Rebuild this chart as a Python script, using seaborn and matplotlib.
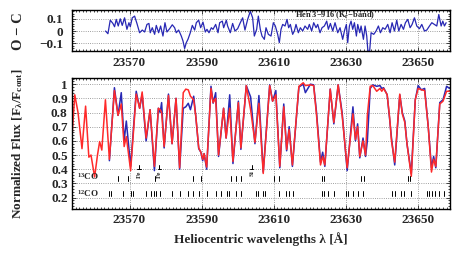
import numpy as np
import pandas as pd
import matplotlib
matplotlib.use('Agg')
import matplotlib.pyplot as plt
from matplotlib.ticker import FixedLocator, MultipleLocator, FuncFormatter
import seaborn as sns

# ---------------------------------------------------------------
# Spectrum (wavelength in Angstrom)
wave = [23554.0, 23554.8, 23555.7, 23556.8, 23557.8, 23558.7, 23559.3, 23560.3,
        23561.1, 23561.7, 23562.3, 23563.3, 23564.4, 23565.8, 23566.8, 23567.7,
        23568.5, 23569.1, 23570.3, 23571.85, 23572.8, 23573.5, 23574.6, 23575.7,
        23576.9, 23578.0, 23578.5, 23578.9, 23579.6, 23580.8, 23581.8, 23582.9,
        23583.9, 23584.9, 23585.6, 23586.3, 23586.9, 23587.8, 23588.4, 23589.2,
        23589.8, 23590.3, 23590.7, 23591.4, 23592.6, 23593.2, 23593.9, 23594.7,
        23596.1, 23596.8, 23597.8, 23598.7, 23600.2, 23600.9, 23602.4, 23603.6,
        23604.8, 23605.9, 23607.1, 23608.9, 23609.7, 23610.6, 23611.7, 23612.8,
        23613.6, 23614.3, 23615.2, 23617.0, 23618.2, 23618.8, 23620.2, 23621.1,
        23621.9, 23623.0, 23623.6, 23624.2, 23625.7, 23626.7, 23627.9, 23629.0,
        23630.4, 23632.0, 23632.7, 23633.3, 23633.9, 23634.8, 23635.5, 23636.0,
        23636.8, 23637.5, 23638.6, 23639.5, 23640.0, 23640.5, 23641.5, 23642.2,
        23642.7, 23643.6, 23645.0, 23645.7, 23646.4, 23647.0, 23648.2, 23649.3,
        23650.1, 23651.0, 23651.9, 23652.9, 23653.8, 23654.4, 23655.0, 23656.1,
        23657.0, 23658.0, 23658.8]

obs_flux = [None, None, None, None, None, None, None, None,
            None, None, None, None, 0.46, 0.975, 0.78, 0.94,
            0.60, 0.74, 0.42, 0.95, 0.83, 0.93, 0.60, 0.82,
            0.39, 0.83, 0.80, 0.87, 0.55, 0.93, 0.58, 0.90,
            0.40, 0.83, 0.84, 0.865, 0.82, 0.915, 0.77, 0.545,
            0.52, 0.46, 0.51, 0.40, 0.985, 0.866, 0.94, 0.49,
            0.83, 0.62, 0.925, 0.44, 0.88, 0.54, 0.99, 0.91,
            0.58, 0.92, 0.38, 0.995, 0.88, 0.955, 0.41, 0.86,
            0.53, 0.70, 0.42, 0.98, 1.00, 0.94, 1.00, 0.995,
            0.80, 0.45, 0.52, 0.42, 0.965, 0.72, 0.995, 0.80,
            0.39, 0.84, 0.60, 0.72, 0.48, 0.62, 0.49, 0.60,
            0.97, 0.995, 0.985, 0.99, 0.97, 0.975, 0.926, 0.75,
            0.62, 0.43, 0.925, 0.80, 0.74, 0.58, 0.37, 0.89,
            0.99, 0.96, 0.97, 0.70, 0.41, 0.49, 0.41, 0.87,
            0.89, 0.985, 0.97]

model_flux = [0.62, 0.925, 0.80, 0.545, 0.845, 0.485, 0.50, 0.345,
              0.50, 0.595, 0.535, 0.89, 0.47, 0.955, 0.78, 0.86,
              0.56, 0.63, 0.39, 0.93, 0.83, 0.945, 0.62, 0.82,
              0.42, 0.83, 0.82, 0.80, 0.56, 0.92, 0.58, 0.90,
              0.41, 0.94, 0.965, 0.96, 0.915, 0.89, 0.77, 0.55,
              0.52, 0.47, 0.51, 0.415, 0.97, 0.87, 0.90, 0.50,
              0.83, 0.62, 0.83, 0.455, 0.87, 0.55, 0.99, 0.82,
              0.59, 0.865, 0.37, 0.99, 0.88, 0.925, 0.42, 0.84,
              0.54, 0.68, 0.43, 0.985, 1.01, 0.99, 0.995, 0.99,
              0.78, 0.43, 0.49, 0.43, 0.965, 0.73, 0.995, 0.78,
              0.41, 0.79, 0.61, 0.70, 0.49, 0.60, 0.50, 0.78,
              0.985, 0.99, 0.95, 0.97, 0.95, 0.97, 0.926, 0.76,
              0.60, 0.45, 0.93, 0.79, 0.73, 0.58, 0.35, 0.89,
              0.97, 0.96, 0.955, 0.70, 0.38, 0.47, 0.42, 0.86,
              0.88, 0.95, 0.95]

# Residuals O - C
oc_wave = [23563.34, 23564.0, 23564.64, 23565.38, 23565.84, 23566.31, 23566.86, 23567.42,
           23567.97, 23568.62, 23569.27, 23569.83, 23570.2, 23570.75, 23571.4, 23572.05,
           23572.79, 23573.53, 23574.18, 23574.83, 23575.38, 23575.75, 23576.31, 23576.96,
           23577.42, 23578.07, 23578.62, 23579.27, 23579.83, 23580.38, 23581.12, 23581.86,
           23582.51, 23582.97, 23583.62, 23584.36, 23584.83, 23585.29, 23585.75, 23586.21,
           23586.86, 23587.42, 23588.07, 23588.53, 23589.18, 23589.73, 23590.38, 23591.03,
           23591.49, 23592.05, 23592.7, 23593.16, 23593.9, 23594.55, 23595.01, 23595.75,
           23596.12, 23596.86, 23597.22, 23597.96, 23598.61, 23599.26, 23600.0, 23600.74,
           23601.39, 23602.03, 23602.78, 23603.52, 23604.16, 23604.63, 23605.28, 23605.74,
           23606.29, 23606.76, 23607.41, 23607.87, 23608.52, 23609.26, 23609.91, 23610.46,
           23611.11, 23611.57, 23612.04, 23612.5, 23613.15, 23613.7, 23614.16, 23614.63,
           23615.27, 23615.74, 23616.2, 23616.85, 23617.41, 23618.05, 23618.7, 23619.44,
           23619.9, 23620.55, 23621.11, 23621.76, 23622.22, 23622.87, 23623.42, 23624.07,
           23624.72, 23625.18, 23625.74, 23626.39, 23627.03, 23627.78, 23628.42, 23629.16,
           23629.63, 23630.18, 23630.55, 23631.02, 23631.48, 23631.94, 23632.41, 23632.96,
           23633.33, 23633.89, 23634.26, 23634.91, 23635.37, 23635.83, 23636.11, 23636.57,
           23637.04, 23637.78, 23638.42, 23639.07, 23639.63, 23640.28, 23640.92, 23641.66,
           23642.31, 23642.87, 23643.52, 23644.16, 23644.72, 23645.37, 23646.02, 23646.57,
           23647.22, 23647.87, 23648.42, 23649.07, 23649.72, 23650.46, 23651.11, 23651.85,
           23652.5, 23653.24, 23653.89, 23654.63, 23655.27, 23655.83, 23656.48, 23656.94,
           23657.4, 23657.87]

oc_val = [0.0, -0.022, 0.089, 0.062, 0.035, 0.095, 0.041, 0.10,
          0.046, 0.108, 0.014, 0.068, 0.035, 0.108, 0.122, 0.062,
          -0.014, 0.008, -0.008, 0.054, 0.062, -0.014, 0.027, -0.027,
          0.046, -0.014, 0.041, -0.041, 0.068, -0.008, 0.019, 0.051,
          0.027, -0.014, 0.008, -0.041, -0.081, -0.143, -0.095, -0.068,
          -0.014, 0.046, 0.008, 0.068, 0.089, 0.027, 0.073, -0.008,
          0.014, -0.014, 0.027, 0.014, 0.054, -0.014, 0.068, 0.081,
          0.027, 0.089, 0.041, -0.014, 0.062, 0.0, 0.019, 0.068,
          0.108, 0.008, 0.095, 0.162, 0.108, -0.041, 0.014, 0.122,
          0.014, -0.041, -0.068, 0.027, -0.027, -0.041, 0.068, 0.041,
          -0.027, -0.095, 0.014, 0.054, 0.041, 0.095, 0.027, 0.054,
          -0.027, 0.0, 0.054, -0.014, 0.027, 0.0, 0.041, 0.014,
          0.054, 0.0, 0.068, 0.027, 0.054, -0.014, 0.027, 0.041,
          0.081, 0.014, 0.062, 0.0, 0.068, -0.014, 0.027, -0.068,
          0.0, 0.054, -0.095, 0.041, 0.081, 0.014, 0.068, -0.041,
          0.054, -0.014, 0.041, -0.068, 0.041, -0.041, -0.149, -0.19,
          -0.014, -0.027, 0.0, 0.041, -0.014, 0.027, 0.014, 0.054,
          -0.014, 0.068, 0.0, 0.089, 0.0, 0.054, 0.014, 0.068,
          0.095, 0.027, 0.054, 0.108, 0.041, 0.019, 0.054, 0.0,
          0.008, 0.041, 0.068, 0.054, 0.041, 0.135, 0.041, 0.081,
          0.041, 0.068]

# line identifications
co13_lines = [23566.8, 23569.7, 23577.1, 23587.6, 23589.9, 23598.2, 23599.5, 23600.9,
              23610.2, 23611.6, 23623.3, 23624.1, 23634.3, 23635.2, 23647.2, 23647.7]
co12_lines = [23564.3, 23564.8, 23568.2, 23570.3, 23571.0, 23574.6, 23576.0, 23576.7,
              23577.4, 23578.5, 23581.8, 23583.9, 23586.2, 23587.6, 23589.3, 23591.5,
              23594.1, 23595.5, 23597.1, 23597.7, 23599.5, 23600.9, 23605.1, 23605.7,
              23606.9, 23607.6, 23611.6, 23613.4, 23614.3, 23615.3, 23623.3, 23624.1,
              23625.0, 23626.7, 23630.1, 23630.7, 23631.9, 23633.3, 23634.7, 23642.8,
              23643.7, 23645.4, 23646.3, 23648.0, 23652.6, 23653.2, 23653.9, 23654.8,
              23656.0, 23657.2]
atomic_lines = [23572.7, 23578.3, 23603.9]
atomic_names = ['Fe', 'Fe', 'Si']

x_ticks = [23570, 23590, 23610, 23630, 23650]
flux_ticks = [0.2, 0.3, 0.4, 0.5, 0.6, 0.7, 0.8, 0.9, 1.0]
oc_ticks = [-0.1, 0.0, 0.1]
# ---------------------------------------------------------------

sns.set_theme(style='ticks')
plt.rcParams['font.family'] = ['Liberation Serif', 'DejaVu Serif']
plt.rcParams['font.weight'] = 'bold'
plt.rcParams['axes.labelweight'] = 'bold'
plt.rcParams['mathtext.fontset'] = 'custom'
plt.rcParams['mathtext.rm'] = 'Liberation Serif:bold'
plt.rcParams['mathtext.bf'] = 'Liberation Serif:bold'
plt.rcParams['mathtext.it'] = 'Liberation Serif:bold'
plt.rcParams['mathtext.default'] = 'rm'

blue = '#2828b4'
red = '#ff2a2a'

fig = plt.figure(figsize=(4.58, 2.56), dpi=100)
ax_top = fig.add_axes([0.157, 0.799, 0.826, 0.162])
ax_bot = fig.add_axes([0.157, 0.184, 0.826, 0.511])

spec = pd.DataFrame({'wave': wave, 'obs': obs_flux, 'model': model_flux})
spec['obs'] = pd.to_numeric(spec['obs'])
oc = pd.DataFrame({'wave': oc_wave, 'oc': oc_val})

line_kw = dict(sort=False, estimator=None, solid_joinstyle='round', solid_capstyle='round')
sns.lineplot(data=oc, x='wave', y='oc', ax=ax_top, color=blue, lw=0.9, **line_kw)
sns.lineplot(data=spec, x='wave', y='obs', ax=ax_bot, color=blue, lw=1.1, **line_kw)
sns.lineplot(data=spec, x='wave', y='model', ax=ax_bot, color=red, lw=1.1, **line_kw)

# line identification marks
for w in co13_lines:
    ax_bot.plot([w, w], [0.318, 0.35], color='black', lw=0.7)
for w in co12_lines:
    ax_bot.plot([w, w], [0.21, 0.245], color='black', lw=0.7)
ax_bot.text(23555.3, 0.348, r'$^{13}$CO', fontsize=6.5, va='center', ha='left')
ax_bot.text(23555.3, 0.231, r'$^{12}$CO', fontsize=6.5, va='center', ha='left')
for w, name in zip(atomic_lines, atomic_names):
    ax_bot.plot([w, w], [0.402, 0.43], color='black', lw=0.7)
    ax_bot.plot([w - 0.5, w + 0.5], [0.402, 0.402], color='black', lw=0.7)
    ax_bot.text(w, 0.392, name, fontsize=5, rotation=90, ha='center', va='top')

ax_top.text(23626.9, 0.128, r'Hen 3$-$916 (K$_{\rm r}$$-$band)', fontsize=6,
            ha='center', va='center')

for ax in (ax_top, ax_bot):
    ax.set_xlim(23554, 23659)
    ax.xaxis.set_major_locator(FixedLocator(x_ticks))
    ax.xaxis.set_minor_locator(MultipleLocator(1))
    ax.yaxis.set_minor_locator(MultipleLocator(0.02))
    ax.tick_params(which='both', direction='in', top=True, right=True,
                   labelsize=9.5, width=0.6)
    ax.tick_params(which='major', length=3)
    ax.tick_params(which='minor', length=1.5)
    ax.tick_params(axis='x', pad=4)
    ax.grid(True, which='major', ls=':', color='gray', lw=0.6)
    for s in ax.spines.values():
        s.set_linewidth(1.0)
        s.set_color('black')
    ax.set_xlabel('')
    ax.yaxis.set_major_formatter(FuncFormatter(lambda v, p: ('%g' % round(v, 2)).replace('-', '\u2212')))

ax_top.set_ylim(-0.167, 0.172)
ax_top.yaxis.set_major_locator(FixedLocator(oc_ticks))
ax_top.tick_params(axis='y', pad=6)
ax_top.set_ylabel('O \u2212 C', fontsize=10.5)
ax_top.yaxis.set_label_coords(-0.125, 0.5)

ax_bot.set_ylim(0.12, 1.043)
ax_bot.yaxis.set_major_locator(FixedLocator(flux_ticks))
ax_bot.tick_params(axis='y', pad=3)
ax_bot.set_ylabel(r'Normalized Flux [F$_\lambda$/F$_{\rm cont}$]', fontsize=9.5)
ax_bot.yaxis.set_label_coords(-0.125, 0.5)
ax_bot.set_xlabel('Heliocentric wavelengths \u03bb [\u00c5]', fontsize=9.5, labelpad=4)

for ax in (ax_top, ax_bot):
    for lab in ax.get_xticklabels() + ax.get_yticklabels():
        lab.set_fontweight('bold')

fig.savefig('out.png', dpi=100)
